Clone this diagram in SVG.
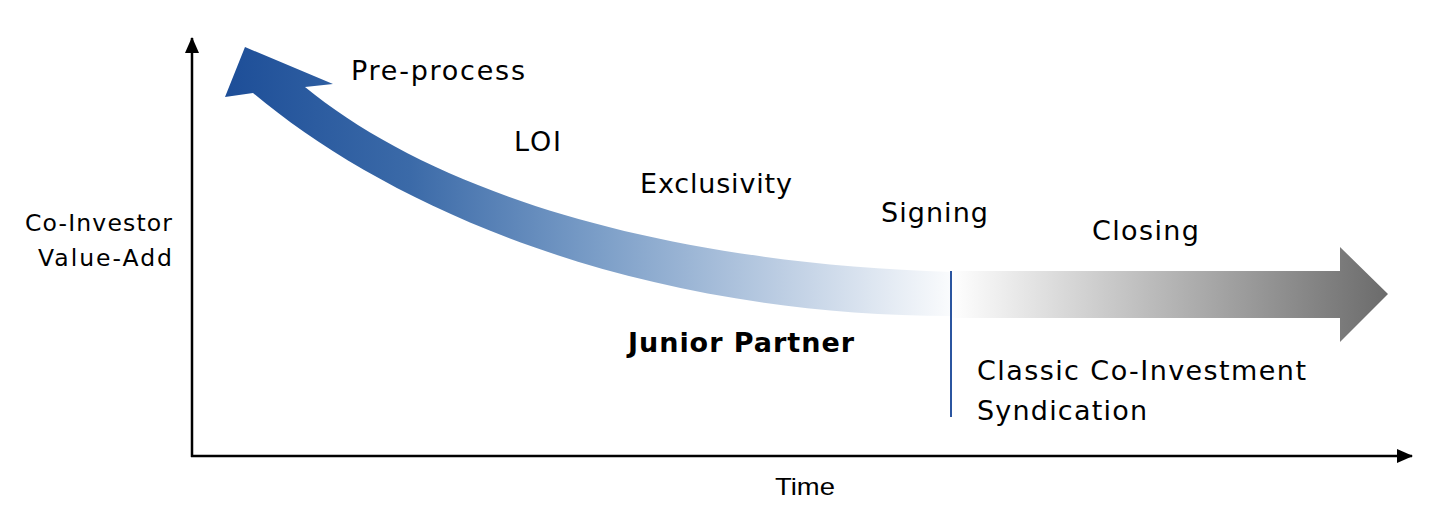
<svg xmlns="http://www.w3.org/2000/svg" width="1438" height="512" viewBox="0 0 1438 512">
  <style>
    .lbl { font-family: "DejaVu Sans", "Open Sans", sans-serif; font-size: 27px; fill: #000; }
    .ax { font-family: "DejaVu Sans", "Open Sans", sans-serif; font-size: 23.5px; fill: #000; }
    .axis { stroke: #000; stroke-width: 2.5; fill: none; }
  </style>
  <defs>
    <linearGradient id="blueGrad" gradientUnits="userSpaceOnUse" x1="225" y1="0" x2="965" y2="0">
      <stop offset="0" stop-color="#1d4e98"/>
      <stop offset="0.25" stop-color="#3b6aa8"/>
      <stop offset="0.5" stop-color="#7a9dc7"/>
      <stop offset="0.78" stop-color="#c4d3e6"/>
      <stop offset="1" stop-color="#ffffff"/>
    </linearGradient>
    <linearGradient id="grayGrad" gradientUnits="userSpaceOnUse" x1="950" y1="0" x2="1388" y2="0">
      <stop offset="0" stop-color="#ffffff"/>
      <stop offset="1" stop-color="#6b6b6b"/>
    </linearGradient>
    <marker id="axHead" markerWidth="16" markerHeight="14" refX="15" refY="7" orient="auto" markerUnits="userSpaceOnUse">
      <path d="M0,0 L16,7 L0,14 Z" fill="#000"/>
    </marker>
  </defs>

  <g id="connectors">
    <line class="axis" x1="192" y1="457" x2="192" y2="38" marker-end="url(#axHead)"/>
    <line class="axis" x1="191" y1="456" x2="1412" y2="456" marker-end="url(#axHead)"/>
  </g>

  <g id="curved-arrow">
    <path d="M305,87 C425,185 640,262 952,272 L952,316 C620,315 380,200 253,93 L225,97 L245,47 L333,84 Z" fill="url(#blueGrad)"/>
  </g>

  <g id="straight-arrow">
    <path d="M950,271 L1340,271 L1340,247 L1388,294 L1340,342 L1340,318 L950,318 Z" fill="url(#grayGrad)"/>
  </g>

  <g id="divider">
    <line x1="951" y1="271" x2="951" y2="417" stroke="#2b55a0" stroke-width="2"/>
  </g>

  <g id="labels">
    <text class="lbl" x="351" y="80" textLength="174" lengthAdjust="spacing">Pre-process</text>
    <text class="lbl" x="514" y="151" textLength="47" lengthAdjust="spacing">LOI</text>
    <text class="lbl" x="640" y="193" textLength="152" lengthAdjust="spacing">Exclusivity</text>
    <text class="lbl" x="881" y="222" textLength="107" lengthAdjust="spacing">Signing</text>
    <text class="lbl" x="1092" y="240" textLength="107" lengthAdjust="spacing">Closing</text>
    <text class="lbl" x="628" y="352" font-weight="bold" font-size="26" textLength="226" lengthAdjust="spacing">Junior Partner</text>
    <text class="lbl" x="977" y="380" textLength="329" lengthAdjust="spacing">Classic Co-Investment</text>
    <text class="lbl" x="977" y="420" textLength="170" lengthAdjust="spacing">Syndication</text>
  </g>

  <g id="axis-labels">
    <text class="ax" x="25" y="231" textLength="147" lengthAdjust="spacing">Co-Investor</text>
    <text class="ax" x="38" y="266" textLength="134" lengthAdjust="spacing">Value-Add</text>
    <text x="775" y="495" font-family="Liberation Sans, Arial, sans-serif" font-size="24" fill="#000" textLength="60" lengthAdjust="spacingAndGlyphs">Time</text>
  </g>
</svg>
